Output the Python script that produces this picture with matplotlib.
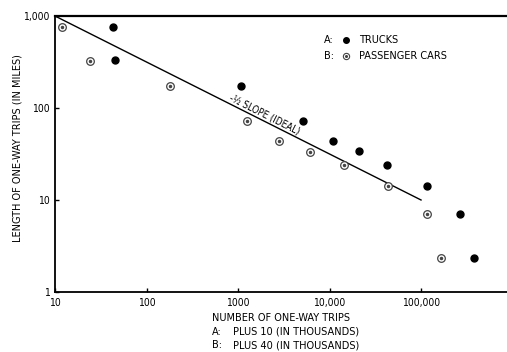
import numpy as np
import matplotlib.pyplot as plt
from matplotlib.ticker import FixedLocator, FixedFormatter, NullLocator

# trucks (A, plus 10 thousand)
truck_x = [43, 45, 1080, 5100, 10900, 21000, 42500, 116000, 267000, 380000]
truck_y = [760, 333, 173, 72, 44, 34, 24, 14.2, 7.05, 2.34]

# passenger cars (B, plus 40 thousand)
car_x = [11.9, 24, 181, 1250, 2800, 6100, 14400, 43600, 116000, 166000]
car_y = [760, 325, 173, 72, 44, 33, 24, 14.2, 7.05, 2.34]

# ideal -1/2 slope line
ideal_x = [10, 100000]
ideal_y = [1000, 10]

xticks = [10, 100, 1000, 10000, 100000]
xlabels = ['10', '100', '1000', '10,000', '100,000']
yticks = [1, 10, 100, 1000]
ylabels = ['1', '10', '100', '1,000']

plt.rcParams['font.family'] = ['DejaVu Sans']
plt.rcParams['font.stretch'] = 'condensed'

fig = plt.figure(figsize=(5.07, 3.52), dpi=100)
ax = fig.add_axes([0.1085, 0.1705, 0.8915, 0.784])

ax.plot(ideal_x, ideal_y, color='black', lw=1.0)
ax.plot(truck_x, truck_y, 'o', ms=5, color='black', ls='none')
ax.plot(car_x, car_y, 'o', ms=5.5, mfc='white', mec='#444444', mew=0.9, ls='none')
ax.plot(car_x, car_y, 'o', ms=1.5, color='#444444', ls='none')

ax.set_xscale('log')
ax.set_yscale('log')
ax.set_xlim(10, 8.7e5)
ax.set_ylim(1, 1000)

ax.xaxis.set_major_locator(FixedLocator(xticks))
ax.xaxis.set_major_formatter(FixedFormatter(xlabels))
ax.xaxis.set_minor_locator(NullLocator())
ax.yaxis.set_major_locator(FixedLocator(yticks))
ax.yaxis.set_major_formatter(FixedFormatter(ylabels))
ax.yaxis.set_minor_locator(NullLocator())
ax.tick_params(direction='in', length=3, width=1, labelsize=7.5, pad=4)

ax.spines['right'].set_visible(False)
for s in ['left', 'bottom']:
    ax.spines[s].set_linewidth(1.3)
ax.spines['top'].set_linewidth(1.6)

ax.text(780, 118, u'-\u00bd SLOPE (IDEAL)', rotation=-26.7, fontsize=7,
        ha='left', va='bottom', rotation_mode='anchor')

# legend block
fs = 7.8
ax.text(0.596, 0.913, 'A:', transform=ax.transAxes, fontsize=fs, va='center')
ax.text(0.596, 0.856, 'B:', transform=ax.transAxes, fontsize=fs, va='center')
ax.plot([0.643], [0.913], 'o', ms=4, color='black', transform=ax.transAxes, clip_on=False)
ax.plot([0.643], [0.856], 'o', ms=4.5, mfc='white', mec='#444444', mew=0.8,
        transform=ax.transAxes, clip_on=False)
ax.plot([0.643], [0.856], 'o', ms=1.2, color='#444444', transform=ax.transAxes, clip_on=False)
ax.text(0.672, 0.913, 'TRUCKS', transform=ax.transAxes, fontsize=fs, va='center')
ax.text(0.672, 0.856, 'PASSENGER CARS', transform=ax.transAxes, fontsize=fs, va='center')

fig.text(18 / 507, 1 - 148 / 352, 'LENGTH OF ONE-WAY TRIPS (IN MILES)', rotation=90,
         fontsize=fs, ha='center', va='center')
fig.text(212 / 507, 1 - 318 / 352, 'NUMBER OF ONE-WAY TRIPS', fontsize=fs, va='center')
fig.text(212 / 507, 1 - 332 / 352, 'A:', fontsize=fs, va='center')
fig.text(212 / 507, 1 - 345 / 352, 'B:', fontsize=fs, va='center')
fig.text(233 / 507, 1 - 332 / 352, 'PLUS 10 (IN THOUSANDS)', fontsize=fs, va='center')
fig.text(233 / 507, 1 - 345 / 352, 'PLUS 40 (IN THOUSANDS)', fontsize=fs, va='center')

fig.savefig('out.png', dpi=100)
